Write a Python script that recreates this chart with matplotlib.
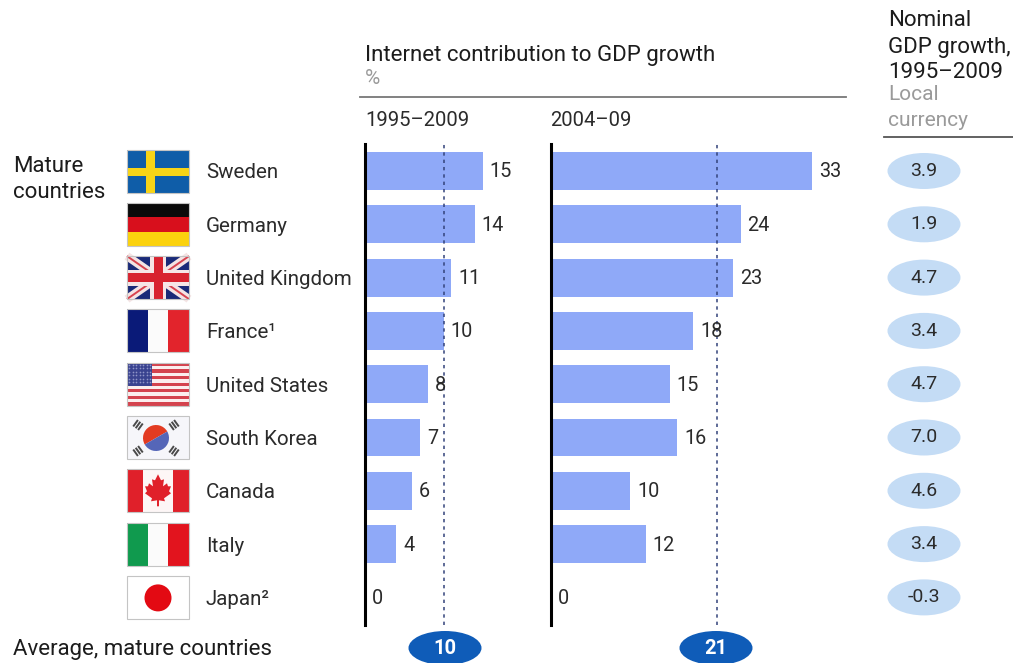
import numpy as np
import matplotlib.pyplot as plt
from matplotlib.patches import Rectangle, Ellipse, Circle, Polygon, Wedge

plt.rcParams["font.family"] = ["Roboto", "DejaVu Sans"]

countries = ["Sweden", "Germany", "United Kingdom", "France¹", "United States",
             "South Korea", "Canada", "Italy", "Japan²"]
contrib_95 = [15, 14, 11, 10, 8, 7, 6, 4, 0]
contrib_04 = [33, 24, 23, 18, 15, 16, 10, 12, 0]
nominal = ["3.9", "1.9", "4.7", "3.4", "4.7", "7.0", "4.6", "3.4", "-0.3"]
avg_95 = 10
avg_04 = 21

W, H = 1013, 663
ROW0, STEP = 171, 53.3
TOP, BOTTOM = 144, 625
BAR = "#8FA9F8"
TEXT = "#2b2b2b"
HEAD = "#1c1c1c"
GREY = "#9a9a9a"
DARK = "#0F5CB8"
PALE = "#C4DCF5"

fig = plt.figure(figsize=(W / 100, H / 100), dpi=100)

# page-level axes in pixel units for text, flags and pills
page = fig.add_axes([0, 0, 1, 1])
page.set_xlim(0, W)
page.set_ylim(H, 0)
page.axis("off")


def row_y(i):
    return ROW0 + i * STEP


def bar_panel(left, px_per_unit, values, avg):
    width = 45 * px_per_unit
    ax = fig.add_axes([left / W, 1 - BOTTOM / H, width / W, (BOTTOM - TOP) / H])
    ax.set_xlim(0, width / px_per_unit)
    ax.set_ylim((BOTTOM - ROW0) / STEP, (TOP - ROW0) / STEP)
    ax.axis("off")
    ys = np.arange(len(values))
    ax.barh(ys, values, height=0.71, color=BAR, zorder=1)
    ax.axvline(avg, color="#33437a", lw=1.1, dashes=(2.2, 2.6), zorder=2)
    ax.axvline(0, color="black", lw=2.2, zorder=3, clip_on=False)
    for y, v in zip(ys, values):
        ax.annotate(str(v), (v, y), xytext=(5, -0.7), textcoords="offset points",
                    va="center", ha="left", fontsize=14.3, color=TEXT, zorder=4)


bar_panel(365, 7.85, contrib_95, avg_95)
bar_panel(551, 7.9, contrib_04, avg_04)

# headers
page.text(365, 55, "Internet contribution to GDP growth", fontsize=16, color=HEAD, va="center")
page.text(365, 78, "%", fontsize=15, color=GREY, va="center")
page.plot([360, 846], [97, 97], color="#777777", lw=1.3)
page.text(365, 121, "1995–2009", fontsize=14.6, color=TEXT, va="center")
page.text(550, 121, "2004–09", fontsize=14.6, color=TEXT, va="center")
for y, s, c, fs in [(21, "Nominal", HEAD, 16), (47, "GDP growth,", HEAD, 16),
                    (72, "1995–2009", HEAD, 16), (95, "Local", GREY, 15), (121, "currency", GREY, 15)]:
    page.text(888, y, s, fontsize=fs, color=c, va="center")
page.plot([884, W], [136.5, 136.5], color="#555555", lw=1.3)

page.text(13, 167, "Mature", fontsize=16, color=HEAD, va="center")
page.text(13, 192, "countries", fontsize=16, color=HEAD, va="center")
page.text(13, 650, "Average, mature countries", fontsize=16, color=HEAD, va="center")

# pills
for i, s in enumerate(nominal):
    page.add_patch(Ellipse((924, row_y(i)), 73, 36, color=PALE, lw=0))
    page.text(924, row_y(i), s, fontsize=14, color=TEXT, ha="center", va="center")
for x, v in [(445, avg_95), (716, avg_04)]:
    page.add_patch(Ellipse((x, 648), 73, 34, color=DARK, lw=0))
    page.text(x, 648, str(v), fontsize=14.5, color="white", weight="bold", ha="center", va="center")

# flags
FX, FW, FH = 127, 62, 43


def rect(x, y, w, h, c, z=5):
    page.add_patch(Rectangle((x, y), w, h, facecolor=c, edgecolor="none", zorder=z))


def frame(y, c="#c4c4c4"):
    page.add_patch(Rectangle((FX, y), FW, FH, facecolor="none", edgecolor=c, lw=0.8, zorder=9))


def sweden(y):
    rect(FX, y, FW, FH, "#0F5DA8")
    rect(FX + 19, y, 8.5, FH, "#F7D417", 6)
    rect(FX, y + 18, FW, 8, "#F7D417", 6)


def germany(y):
    rect(FX, y, FW, 14.5, "#0a0a0a")
    rect(FX, y + 14.5, FW, 14.5, "#D80F1C")
    rect(FX, y + 29, FW, 14, "#FBD20E")


def uk(y):
    rect(FX, y, FW, FH, "#1A2A78")
    x0, x1, y0, y1 = FX, FX + FW, y, y + FH
    for a, b in [(y0, y1), (y1, y0)]:
        page.plot([x0, x1], [a, b], color="#f4e4e4", lw=6, zorder=6, solid_capstyle="butt")
        page.plot([x0, x1], [a, b], color="#D8434F", lw=1.4, zorder=6, solid_capstyle="butt")
    rect(FX + 23, y, 16, FH, "#f6e6e6", 7)
    rect(FX, y + 13.5, FW, 16, "#f6e6e6", 7)
    rect(FX + 26.5, y, 9, FH, "#D8232F", 8)
    rect(FX, y + 17, FW, 9, "#D8232F", 8)


def vertical_tricolour(y, a, b, c):
    rect(FX, y, 21, FH, a)
    rect(FX + 21, y, 20, FH, b)
    rect(FX + 41, y, 21, FH, c)


def usa(y):
    rect(FX, y, FW, FH, "#fbeeee")
    for k in range(0, 13, 2):
        rect(FX, y + k * FH / 13, FW, FH / 13, "#D4434E", 6)
    rect(FX, y, 25, 23, "#3A4390", 7)
    xs, ys = np.meshgrid(np.arange(FX + 2, FX + 25, 3.5), np.arange(y + 2, y + 22, 3.5))
    page.scatter(xs.ravel(), ys.ravel(), s=1.5, color="#8f94c8", linewidths=0, zorder=8)


def korea(y):
    rect(FX, y, FW, FH, "#f6f6fa")
    c = (FX + 29, y + 22)
    page.add_patch(Wedge(c, 13, 150, 330, facecolor="#E33B22", edgecolor="none", zorder=6))
    page.add_patch(Wedge(c, 13, -30, 150, facecolor="#5566B8", edgecolor="none", zorder=6))
    # three short bars in each corner, set across the line to the centre
    for dx, dy in [(-18, -13), (18, -13), (-18, 13), (18, 13)]:
        r = np.hypot(dx, dy)
        ux, uy = dx / r, dy / r
        for off in (-3, 0, 3):
            mx, my = c[0] + dx + ux * off, c[1] + dy + uy * off
            page.plot([mx - uy * 4, mx + uy * 4], [my + ux * 4, my - ux * 4],
                      color="#4a4a4a", lw=1.4, zorder=6, solid_capstyle="butt")


def canada(y):
    rect(FX, y, FW, FH, "#fdf6f6")
    rect(FX, y, 16, FH, "#E0202A", 6)
    rect(FX + 46, y, 16, FH, "#E0202A", 6)
    cx, cy = FX + 31, y + 20
    leaf = [(0, -15), (3, -9), (6, -10), (5, -3), (9, -6), (10, -3), (13, -3), (11, 2), (13, 4),
            (6, 9), (7, 12), (1, 11), (1, 17), (-1, 17), (-1, 11), (-7, 12), (-6, 9), (-13, 4),
            (-11, 2), (-13, -3), (-10, -3), (-9, -6), (-5, -3), (-6, -10), (-3, -9)]
    page.add_patch(Polygon([(cx + a, cy + b) for a, b in leaf], facecolor="#E0202A", edgecolor="none", zorder=6))


def japan(y):
    rect(FX, y, FW, FH, "white")
    page.add_patch(Circle((FX + 31, y + 22), 13.5, facecolor="#E30A13", edgecolor="none", zorder=6))


flag_draw = [sweden, germany, uk,
             lambda y: vertical_tricolour(y, "#0A1A78", "#fbfbfb", "#E2242C"),
             usa, korea, canada,
             lambda y: vertical_tricolour(y, "#109A4E", "#fbfbfb", "#E2141E"),
             japan]

for i, name in enumerate(countries):
    y = row_y(i) - FH / 2
    flag_draw[i](y)
    frame(y)
    page.text(206, row_y(i) + 2, name, fontsize=14.8, color=TEXT, va="center")

fig.savefig("out.png", dpi=100)
